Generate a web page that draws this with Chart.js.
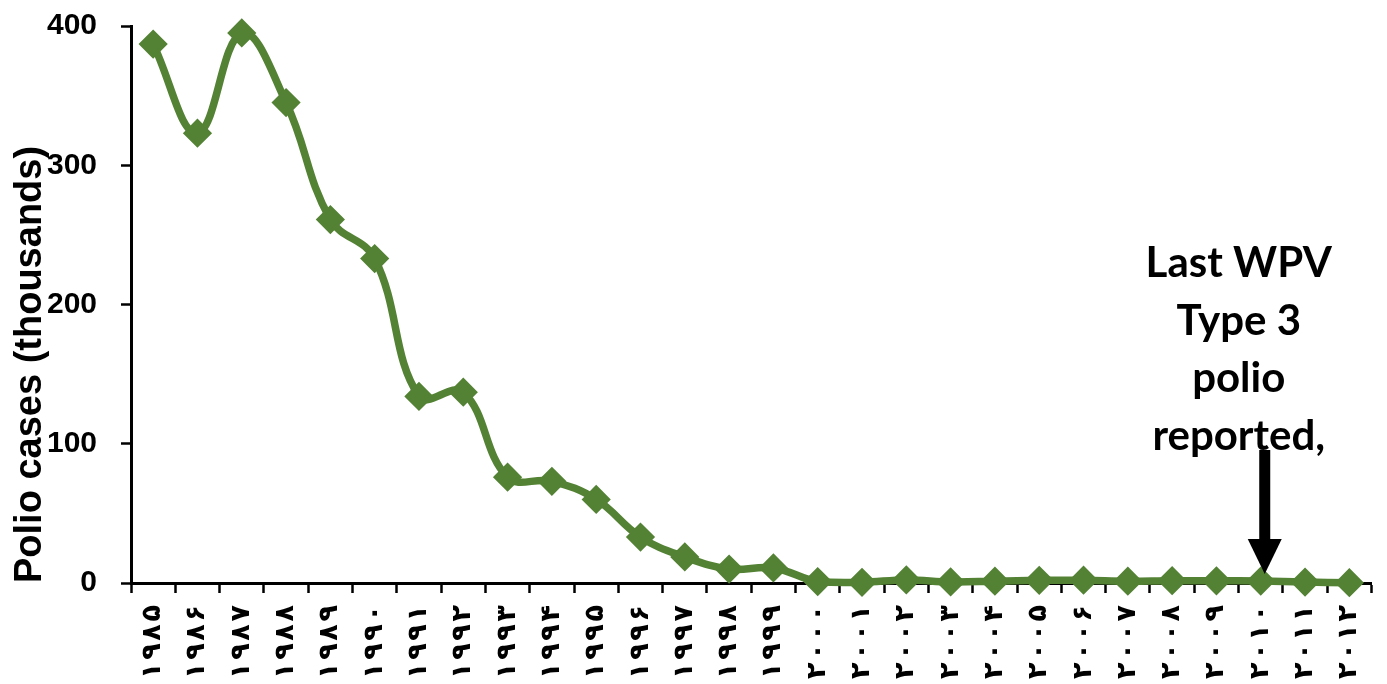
<!DOCTYPE html>
<html>
<head>
<meta charset="utf-8">
<script src="https://cdn.jsdelivr.net/npm/chart.js@4.4.1/dist/chart.umd.min.js"></script>
<style>
  html, body { margin: 0; padding: 0; background: #ffffff; }
  #wrap { width: 1387px; height: 684px; }
</style>
</head>
<body>
<div id="wrap"><canvas id="chart" width="1387" height="684"></canvas></div>
<script>
// Years 1985-2012, written with Persian digits on the axis
const yearLabels = [
  '۱۹۸۵', '۱۹۸۶', '۱۹۸۷', '۱۹۸۸', '۱۹۸۹', '۱۹۹۰', '۱۹۹۱', '۱۹۹۲', '۱۹۹۳', '۱۹۹۴',
  '۱۹۹۵', '۱۹۹۶', '۱۹۹۷', '۱۹۹۸', '۱۹۹۹', '۲۰۰۰', '۲۰۰۱', '۲۰۰۲', '۲۰۰۳', '۲۰۰۴',
  '۲۰۰۵', '۲۰۰۶', '۲۰۰۷', '۲۰۰۸', '۲۰۰۹', '۲۰۱۰', '۲۰۱۱', '۲۰۱۲'
];

// Reported polio cases, in thousands
const polioCases = [
  387, 323, 395, 345, 261, 233, 134, 137, 76, 73,
  60, 33, 18.7, 10, 10.8, 1.0, 0.5, 2.2, 0.8, 1.3,
  1.9, 2.0, 1.3, 1.7, 1.6, 1.4, 0.7, 0.2
];

const yTicks = [0, 100, 200, 300, 400];

// Callout marking the last wild poliovirus type 3 case
const calloutLines = ['Last WPV', 'Type 3', 'polio', 'reported,'];
const calloutIndex = 25;

const green = '#548235';

const calloutPlugin = {
  id: 'callout',
  afterDatasetsDraw(chart) {
    const ctx = chart.ctx;
    const xs = chart.scales.x;
    const ys = chart.scales.y;
    const px = xs.getPixelForValue(calloutIndex) + 4;
    const py = ys.getPixelForValue(polioCases[calloutIndex]);
    const tipY = py - 7;
    const headH = 35;
    const headW = 17;
    const shaftTop = 450;
    const shaftW = 11;

    ctx.save();
    ctx.fillStyle = '#000000';
    ctx.font = 'bold 42px Lato, "Open Sans", sans-serif';
    ctx.textAlign = 'center';
    ctx.textBaseline = 'alphabetic';
    calloutLines.forEach((line, i) => {
      ctx.fillText(line, px - 26, 277 + i * 57.7);
    });

    // arrow shaft and head
    ctx.fillRect(px - shaftW / 2, shaftTop, shaftW, tipY - headH - shaftTop + 1);
    ctx.beginPath();
    ctx.moveTo(px - headW, tipY - headH);
    ctx.lineTo(px + headW, tipY - headH);
    ctx.lineTo(px, tipY);
    ctx.closePath();
    ctx.fill();
    ctx.restore();
  }
};

new Chart(document.getElementById('chart'), {
  type: 'line',
  data: {
    labels: yearLabels,
    datasets: [{
      data: polioCases,
      borderColor: green,
      backgroundColor: green,
      borderWidth: 7.5,
      tension: 0.4,
      pointStyle: 'rectRot',
      pointRadius: 12.5,
      pointBorderWidth: 3,
      pointBackgroundColor: green,
      pointBorderColor: green,
      clip: false
    }]
  },
  options: {
    responsive: false,
    animation: false,
    events: [],
    layout: { padding: { top: 26, right: 15, bottom: 0, left: 0 } },
    plugins: {
      legend: { display: false },
      tooltip: { enabled: false }
    },
    scales: {
      x: {
        offset: true,
        afterFit(scale) {
          scale.height = 101;
          scale.paddingLeft = 0;
          scale.paddingRight = 0;
        },
        grid: {
          offset: true,
          drawOnChartArea: false,
          drawTicks: true,
          tickLength: 10,
          tickWidth: 2.5,
          tickColor: '#000000'
        },
        border: { display: true, color: '#000000', width: 3 },
        ticks: {
          autoSkip: false,
          minRotation: 90,
          maxRotation: 90,
          padding: 12,
          color: '#000000',
          // digits are spread apart with hair spaces
          callback: (value, index) => yearLabels[index].split('').join('\u200A'),
          font: { family: '"DejaVu Sans", sans-serif', size: 27, weight: 'bold' }
        }
      },
      y: {
        min: 0,
        max: 400,
        afterFit(scale) {
          scale.width = 131;
          scale.paddingTop = 0;
          scale.paddingBottom = 0;
        },
        afterBuildTicks(scale) { scale.ticks = yTicks.map(v => ({ value: v })); },
        grid: {
          drawOnChartArea: false,
          drawTicks: true,
          tickLength: 10,
          tickWidth: 2.5,
          tickColor: '#000000'
        },
        border: { display: true, color: '#000000', width: 3 },
        ticks: {
          padding: 24,
          color: '#000000',
          font: { family: '"Liberation Sans", Arial, sans-serif', size: 30, weight: 'bold' }
        },
        title: {
          display: true,
          text: 'Polio cases (thousands)',
          align: 'start',
          color: '#000000',
          padding: { top: 12, bottom: 0 },
          font: { family: '"Liberation Sans", Arial, sans-serif', size: 38, weight: 'bold', lineHeight: 1 }
        }
      }
    }
  },
  plugins: [calloutPlugin]
});
</script>
</body>
</html>
